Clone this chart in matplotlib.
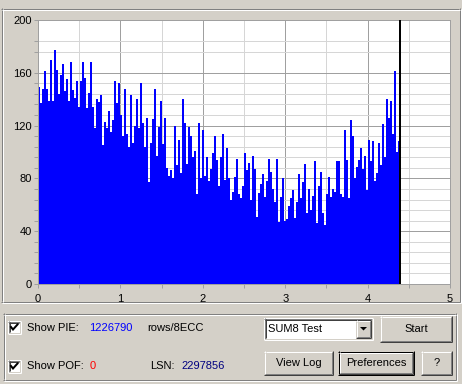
import numpy as np
import matplotlib
matplotlib.use("Agg")
import matplotlib.pyplot as plt
from matplotlib.patches import Rectangle, Polygon

plt.rcParams['font.family'] = ['Liberation Sans', 'DejaVu Sans']

# PIE sum per sample (rows/8ECC)
pie_values = [
    149, 137, 148, 161, 148, 139, 170, 139, 177, 162,
    144, 158, 167, 146, 155, 139, 168, 147, 141, 154,
    134, 154, 168, 156, 133, 145, 168, 134, 118, 140,
    138, 143, 105, 123, 118, 131, 115, 124, 154, 137,
    152, 128, 112, 148, 114, 104, 143, 107, 120, 140,
    118, 152, 122, 104, 126, 77, 107, 125, 148, 97,
    119, 139, 106, 126, 88, 82, 86, 80, 120, 90,
    109, 84, 140, 122, 91, 119, 112, 96, 101, 68,
    122, 80, 117, 82, 96, 78, 87, 99, 112, 94,
    74, 96, 114, 79, 103, 80, 64, 70, 81, 95,
    68, 65, 74, 99, 86, 92, 64, 97, 87, 51,
    69, 76, 83, 66, 78, 95, 85, 72, 62, 95,
    47, 66, 80, 48, 49, 59, 65, 71, 50, 62,
    83, 65, 77, 91, 54, 72, 56, 67, 93, 46,
    74, 85, 54, 45, 68, 81, 66, 72, 70, 93,
    93, 68, 66, 117, 94, 65, 124, 112, 80, 89,
    94, 103, 87, 97, 71, 109, 93, 108, 78, 84,
    107, 90, 121, 96, 140, 126, 139, 114, 161, 100, 108,
]
sample_step = 0.02427      # GB per sample
cursor_pos = 4.397         # current position marker
x_ticks = [0, 1, 2, 3, 4, 5]
y_ticks = [0, 40, 80, 120, 160, 200]

pie_total = '1226790'
pof_total = '0'
lsn = '2297856'
test_name = 'SUM8 Test'

W, H = 462, 384
FACE = '#D4D0C8'
PX = 72 / 100  # one pixel in points

fig = plt.figure(figsize=(W / 100, H / 100), dpi=100, facecolor=FACE)

# background axes in pixel coordinates for the dialog widgets
bg = fig.add_axes([0, 0, 1, 1], zorder=0)
bg.set_xlim(0, W)
bg.set_ylim(H, 0)
bg.axis('off')


def hl(x0, x1, y, c):
    bg.plot([x0, x1 + 1], [y + .5, y + .5], color=c, lw=PX, solid_capstyle='butt')


def vl(x, y0, y1, c):
    bg.plot([x + .5, x + .5], [y0, y1 + 1], color=c, lw=PX, solid_capstyle='butt')


def bevel(x0, y0, x1, y1, tl, br):
    hl(x0, x1 - 1, y0, tl)
    vl(x0, y0, y1 - 1, tl)
    hl(x0, x1, y1, br)
    vl(x1, y0, y1, br)


def etched(x0, y0, x1, y1):
    bevel(x0, y0, x1 - 1, y1 - 1, '#808080', '#808080')
    bevel(x0 + 1, y0 + 1, x1, y1, 'white', 'white')


def raised(x0, y0, x1, y1, label=None, default=False):
    if default:
        bevel(x0, y0, x1, y1, 'black', 'black')
        x0, y0, x1, y1 = x0 + 1, y0 + 1, x1 - 1, y1 - 1
    bg.add_patch(Rectangle((x0, y0), x1 - x0 + 1, y1 - y0 + 1, fc=FACE, ec='none'))
    bevel(x0, y0, x1, y1, 'white', '#404040')
    bevel(x0 + 1, y0 + 1, x1 - 1, y1 - 1, FACE, '#808080')
    if label:
        bg.text((x0 + x1 + 1) / 2, (y0 + y1 + 1) / 2, label, ha='center', va='center', fontsize=8)


def sunken(x0, y0, x1, y1):
    bg.add_patch(Rectangle((x0, y0), x1 - x0 + 1, y1 - y0 + 1, fc='white', ec='none'))
    bevel(x0, y0, x1, y1, '#808080', 'white')
    bevel(x0 + 1, y0 + 1, x1 - 1, y1 - 1, '#404040', FACE)


def checkbox(x0, y0):
    sunken(x0, y0, x0 + 12, y0 + 12)
    bg.plot([x0 + 3, x0 + 5, x0 + 9.5], [y0 + 6, y0 + 8.5, y0 + 3.5],
            color='black', lw=2 * PX, solid_joinstyle='miter')


etched(1, 8, 460, 302)
etched(3, 313, 456, 380)

# row 1
checkbox(8, 321)
bg.text(27, 328, 'Show PIE:', va='center', fontsize=8)
bg.text(89, 328, pie_total, va='center', fontsize=8, color='#0000FF')
bg.text(147, 328, 'rows/8ECC', va='center', fontsize=8)
sunken(264, 318, 372, 339)
bg.text(268, 329, test_name, va='center', fontsize=8)
raised(356, 320, 370, 337)
bg.add_patch(Polygon([(360, 327), (367, 327), (363.5, 330.5)], fc='black', ec='none'))
raised(380, 316, 451, 341, 'Start')

# row 2
checkbox(8, 360)
bg.text(27, 366, 'Show POF:', va='center', fontsize=8)
bg.text(90, 366, pof_total, va='center', fontsize=8, color='#FF0000')
bg.text(150, 366, 'LSN:', va='center', fontsize=8)
bg.text(181, 366, lsn, va='center', fontsize=8, color='#000080')
raised(264, 351, 332, 374, 'View Log')
raised(338, 351, 413, 374, 'Preferences', default=True)
raised(421, 351, 451, 374, '?')

# chart
ax = fig.add_axes([38 / W, 100 / H, 412 / W, 264 / H], zorder=1)
ax.set_facecolor('white')
x = np.arange(len(pie_values)) * sample_step
ax.bar(x, pie_values, width=sample_step, align='edge', color='#0000FF',
       linewidth=0, antialiased=False, zorder=2)
ax.axvline(cursor_pos, color='black', lw=2 * PX, zorder=3)

ax.set_xlim(0, 5)
ax.set_ylim(0, 200)
ax.set_xticks(x_ticks)
ax.set_xticks(np.arange(0.5, 5, 1), minor=True)
ax.set_yticks(y_ticks)
ax.set_yticks([m for m in range(8, 200, 8) if m % 40 and m not in (168, 192)], minor=True)
ax.set_axisbelow(True)
ax.grid(which='major', color='#A0A0A0', lw=PX)
ax.grid(which='minor', color='#D6D6D6', lw=PX)
ax.tick_params(which='both', direction='out', length=3, width=PX, color='#A0A0A0',
               labelsize=8, labelcolor='black')
ax.tick_params(axis='x', pad=4)
ax.tick_params(axis='y', pad=1.5)
ax.tick_params(which='minor', labelleft=False, labelbottom=False)
for s in ax.spines.values():
    s.set_color('#A0A0A0')
    s.set_linewidth(PX)

fig.savefig('out.png', dpi=100, facecolor=FACE)
